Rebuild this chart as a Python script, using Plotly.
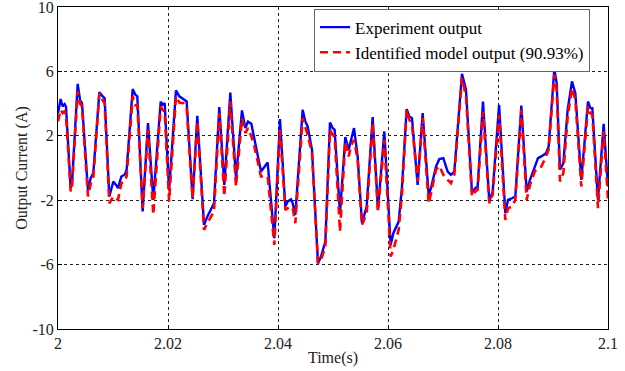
import plotly.graph_objects as go

# time offsets after t = 2 s, in milliseconds
time_ms = [0.0, 0.48, 0.85, 1.21, 1.45, 2.30, 2.55, 3.58, 4.00, 4.36,
           5.45, 5.94, 6.42, 7.52, 8.12, 8.48, 9.33, 10.06, 10.55, 10.91,
           11.52, 12.12, 12.48, 13.58, 14.06, 14.42, 15.39, 16.36, 17.33, 18.67,
           19.03, 19.39, 20.20, 21.45, 22.06, 22.79, 23.39, 24.48, 25.33, 26.55,
           27.15, 28.36, 29.33, 30.24, 31.33, 32.36, 33.45, 34.06, 34.55, 35.15,
           35.70, 36.91, 38.12, 39.33, 40.36, 41.33, 41.76, 42.36, 42.67, 43.15,
           44.48, 44.97, 45.39, 46.18, 47.27, 47.82, 48.61, 49.45, 49.94, 50.30,
           51.27, 52.24, 52.85, 53.33, 53.82, 54.48, 55.27, 56.12, 57.21, 58.18,
           59.33, 60.48, 60.97, 61.94, 62.55, 63.39, 63.88, 64.36, 65.39, 66.30,
           67.39, 67.82, 68.73, 69.33, 70.06, 70.85, 71.45, 72.06, 73.45, 74.18,
           75.27, 75.88, 76.30, 77.27, 78.42, 79.03, 80.20, 81.33, 81.82, 82.55,
           83.15, 84.24, 85.21, 85.82, 86.67, 87.27, 87.88, 88.73, 89.21, 90.24,
           90.67, 91.27, 91.88, 92.67, 93.45, 94.06, 95.15, 96.36, 96.79, 97.15,
           98.18, 99.21, 100.0]

experiment = [3.40, 4.28, 3.82, 3.97, 3.82, -1.25, -0.94, 5.23, 4.24, 4.03,
              -1.40, -0.63, -0.32, 4.71, 4.45, 4.34, -1.77, -0.84, -1.05, -1.25,
              -0.53, -0.42, -0.11, 4.90, 4.55, 4.45, -2.70, 2.79, -1.98, 4.13,
              3.93, 4.03, -1.40, 4.82, 4.45, 4.28, 4.13, -1.94, 3.24, -3.53,
              -3.02, -2.19, 3.78, -1.05, 4.69, -0.63, 3.58, 2.48, 2.89, 2.75,
              1.75, -0.22, 0.34, -4.36, 3.04, -2.39, -2.08, -1.94, -2.19, -2.91,
              3.62, 2.89, 2.58, 1.13, -5.92, -5.50, -4.57, 2.83, 2.48, 2.37,
              -2.81, 1.92, 1.13, 1.75, 2.48, 0.72, -3.43, -2.39, 3.16, -2.60,
              2.27, -4.78, -4.05, -3.33, -1.15, 3.66, 3.20, 3.10, -1.05, 3.41,
              -1.67, -1.25, 0.09, 0.55, 0.61, -0.22, -0.42, -0.22, 5.85, 4.86,
              -1.52, -1.25, -1.15, 4.13, -2.08, -1.46, 3.93, -2.81, -1.98, -1.88,
              -1.77, 3.87, -1.46, -0.74, 0.09, 0.61, 0.72, 0.92, 1.34, 6.15,
              5.27, -0.11, 0.30, 3.62, 5.38, 4.65, -0.74, 4.13, 3.72, 3.72,
              -1.98, 2.75, -1.15]

model = [2.90, 3.62, 3.41, 3.51, 3.30, -1.46, -1.10, 4.76, 4.00, 3.82,
         -1.77, -1.00, -0.60, 4.65, 4.20, 4.03, -2.19, -1.77, -1.90, -1.98,
         -0.94, -0.84, -0.50, 4.45, 3.90, 3.93, -2.50, 2.37, -2.91, 3.82,
         3.60, 3.51, -2.08, 4.45, 4.07, 4.03, 3.72, -1.88, 2.89, -3.84,
         -3.43, -2.70, 3.41, -1.77, 4.13, -1.15, 3.10, 2.17, 2.48, 1.96,
         1.34, -0.53, -0.53, -4.78, 2.37, -2.60, -2.50, -2.39, -2.50, -3.43,
         3.10, 2.58, 2.06, 0.92, -5.92, -5.71, -4.88, 2.37, 2.06, 1.96,
         -3.95, 1.65, 0.72, 1.44, 1.75, 0.51, -3.53, -2.81, 2.79, -2.70,
         1.75, -5.50, -5.09, -3.84, -1.56, 3.62, 2.99, 2.68, -0.84, 3.10,
         -2.19, -1.56, -0.11, 0.13, -0.42, -0.74, -0.94, -0.42, 5.59, 4.45,
         -1.77, -1.46, -1.36, 3.51, -2.19, -1.67, 3.30, -3.22, -2.50, -2.39,
         -1.98, 3.62, -1.98, -1.05, -0.22, -0.01, 0.09, 0.72, 1.13, 5.79,
         4.86, -0.84, -0.32, 3.20, 4.96, 4.24, -1.15, 3.82, 3.41, 3.31,
         -2.50, 2.27, -1.98]

time_s = [2 + m / 1000 for m in time_ms]

x_ticks = [2, 2.02, 2.04, 2.06, 2.08, 2.1]
x_tick_text = ["2", "2.02", "2.04", "2.06", "2.08", "2.1"]
y_ticks = [-10, -6, -2, 2, 6, 10]
y_tick_text = ["-10", "-6", "-2", "2", "6", "10"]

FONT = "Liberation Serif, Times New Roman, serif"

fig = go.Figure()
fig.add_trace(go.Scatter(x=time_s, y=experiment, mode="lines",
                         name="Experiment output",
                         line=dict(color="#0000FF", width=2.4)))
fig.add_trace(go.Scatter(x=time_s, y=model, mode="lines",
                         name="Identified model output (90.93%)",
                         line=dict(color="#FF0000", width=2.6, dash="8px,5px")))

axis_common = dict(showline=True, linecolor="black", linewidth=1, mirror=True,
                   showgrid=True, gridcolor="#222", griddash="dot", gridwidth=1,
                   zeroline=False, ticks="inside", ticklen=4, tickcolor="black",
                   ticklabeloverflow="allow", automargin=False,
                   tickfont=dict(family=FONT, size=16, color="#222"))

fig.update_xaxes(range=[2, 2.1], tickvals=x_ticks, ticktext=x_tick_text,
                 title=dict(text="Time(s)", font=dict(family=FONT, size=16, color="#222"),
                            standoff=0),
                 **axis_common)
fig.update_yaxes(range=[-10, 10], tickvals=y_ticks, ticktext=y_tick_text,
                 title=dict(text="Output Current (A)", font=dict(family=FONT, size=16, color="#222"),
                            standoff=0),
                 **axis_common)

fig.update_layout(
    width=625, height=371,
    margin=dict(l=58, r=17, t=7, b=42),
    paper_bgcolor="white", plot_bgcolor="white",
    showlegend=True,
    legend=dict(x=0.4655, y=0.995, xanchor="left", yanchor="top",
                bgcolor="white", bordercolor="#666", borderwidth=1,
                font=dict(family=FONT, size=17, color="black"),
                itemwidth=30),
)

fig.write_html("out.html")
